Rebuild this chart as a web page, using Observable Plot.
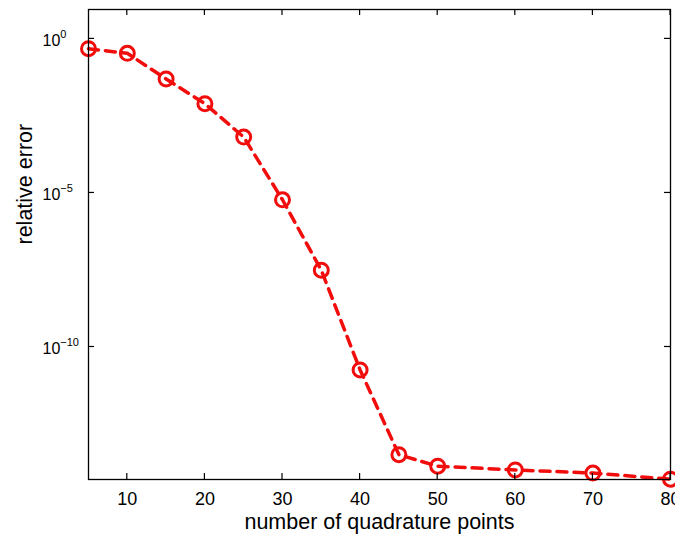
<!DOCTYPE html>
<html><head><meta charset="utf-8">
<script src="https://cdn.jsdelivr.net/npm/d3@7"></script>
<script src="https://cdn.jsdelivr.net/npm/@observablehq/plot@0.6"></script>
<style>
html,body{margin:0;padding:0;background:#fff;}
#chart svg{display:block}
</style></head><body><div id="chart"></div>
<script>
const quadPoints = [5, 10, 15, 20, 25, 30, 35, 40, 45, 50, 60, 70, 80];
const relErrors = [0.48, 0.34, 0.050, 7.9e-3, 6.5e-4, 6.0e-6, 3.1e-8, 1.8e-11, 3.2e-14, 1.35e-14, 1.02e-14, 8.1e-15, 5.1e-15];
const xTicks = [10, 20, 30, 40, 50, 60, 70, 80];
const yTicks = [1, 1e-5, 1e-10];
const yTickExponents = ["0", "\u22125", "\u221210"];
const xLabel = "number of quadrature points";
const yLabel = "relative error";

(function() {
const data = quadPoints.map((x, i) => ({x, y: relErrors[i]}));
const red = "#f20d0d";
const W = 675, H = 539, mL = 88, mR = 5, mT = 9, mB = 60;

const plot = Plot.plot({
  width: W, height: H,
  marginLeft: mL, marginRight: mR, marginTop: mT, marginBottom: mB,
  style: {fontFamily: "'Liberation Sans', Arial, Helvetica, sans-serif", background: "white", color: "black", overflow: "hidden"},
  x: {domain: [5, 80]},
  y: {type: "log", domain: [5.0e-15, 9], axis: null},
  marks: [
    Plot.axisX(xTicks, {anchor: "bottom", tickSize: 0, tickPadding: 13, fontSize: 18, label: null}),
    Plot.text(yTicks, {y: d => d, frameAnchor: "left", dx: -46, dy: 2, text: (d, i) => "10^" + yTickExponents[i], textAnchor: "start", lineAnchor: "middle", fontSize: 16}),
    Plot.text([xLabel], {frameAnchor: "bottom", dy: 43, text: d => d, fontSize: 21.5, lineAnchor: "middle"}),
    Plot.text([yLabel], {frameAnchor: "left", dx: -63, rotate: -90, text: d => d, fontSize: 21.5, lineAnchor: "middle"}),
    Plot.line(data, {x: "x", y: "y", stroke: red, strokeWidth: 3.5, strokeDasharray: "10,7"}),
    Plot.dot(data, {x: "x", y: "y", r: 7, stroke: red, strokeWidth: 3, fill: "none"}),
    Plot.frame({stroke: "black", strokeWidth: 1.3})
  ]
});

const svg = d3.select(plot);
svg.selectAll("text").each(function() {
  const s = this.textContent;
  const k = s.indexOf("^");
  if (k < 0) return;
  const base = s.slice(0, k), exp = s.slice(k + 1);
  const el = d3.select(this);
  el.text(null);
  el.append("tspan").text(base);
  el.append("tspan").attr("dy", -8.5).attr("font-size", 11).text(exp);
});
const sx = plot.scale("x"), sy = plot.scale("y");
const fTop = mT, fBottom = H - mB, fLeft = mL, fRight = W - mR, tl = 6;
const g = svg.append("g").attr("stroke", "black").attr("stroke-width", 1.2);
xTicks.forEach(t => {
  const px = sx.apply(t);
  g.append("line").attr("x1", px).attr("x2", px).attr("y1", fBottom).attr("y2", fBottom - tl);
  g.append("line").attr("x1", px).attr("x2", px).attr("y1", fTop).attr("y2", fTop + tl);
});
yTicks.forEach(t => {
  const py = sy.apply(t);
  g.append("line").attr("x1", fLeft).attr("x2", fLeft + tl).attr("y1", py).attr("y2", py);
  g.append("line").attr("x1", fRight).attr("x2", fRight - tl).attr("y1", py).attr("y2", py);
});
document.getElementById("chart").appendChild(plot);
})();
</script></body></html>
